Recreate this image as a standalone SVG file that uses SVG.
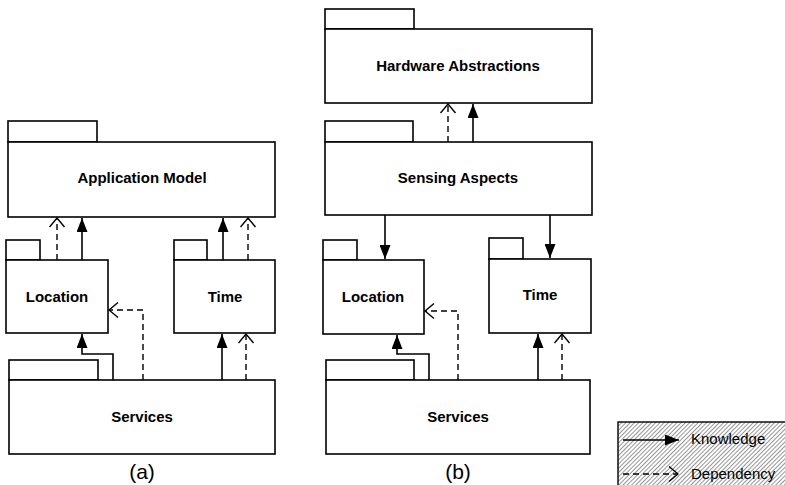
<svg xmlns="http://www.w3.org/2000/svg" width="785" height="485" viewBox="0 0 785 485">
<defs>
<style>
.pk{fill:#fff;stroke:#000;stroke-width:1.6}
.lbl{font-family:"Liberation Sans",Arial,sans-serif;font-weight:bold;font-size:15px;text-anchor:middle;fill:#000}
.cap{font-family:"Liberation Sans",Arial,sans-serif;font-size:21px;text-anchor:middle;fill:#000}
.leg{font-family:"Liberation Sans",Arial,sans-serif;font-size:15px;fill:#000}
.k{fill:none;stroke:#000;stroke-width:1.6;marker-end:url(#fa)}
.d{fill:none;stroke:#000;stroke-width:1.4;stroke-dasharray:6,4;marker-end:url(#oa)}
</style>
<marker id="fa" viewBox="0 0 14 11" refX="14" refY="5.5" markerWidth="14" markerHeight="11" markerUnits="userSpaceOnUse" orient="auto">
<path d="M0,0 L14,5.5 L0,11 z" fill="#000"/>
</marker>
<marker id="oa" viewBox="-1 -1 11 17" refX="9" refY="7.5" markerWidth="11" markerHeight="17" markerUnits="userSpaceOnUse" orient="auto">
<path d="M0,0 L9,7.5 L0,15" fill="none" stroke="#000" stroke-width="1.4"/>
</marker>
<pattern id="hatch" width="3" height="3" patternUnits="userSpaceOnUse" patternTransform="rotate(45)">
<line x1="0.5" y1="0" x2="0.5" y2="3" stroke="#8a8a8a" stroke-width="0.9"/>
</pattern>
</defs>

<!-- (a) -->
<g id="a-appmodel">
<rect class="pk" x="8" y="121" width="89" height="21"/>
<rect class="pk" x="8" y="142" width="267" height="75"/>
<text class="lbl" x="142" y="183">Application Model</text>
</g>
<g id="a-location">
<rect class="pk" x="6" y="240" width="34" height="20"/>
<rect class="pk" x="6" y="260" width="102" height="73"/>
<text class="lbl" x="57" y="302">Location</text>
</g>
<g id="a-time">
<rect class="pk" x="174" y="240" width="33" height="20"/>
<rect class="pk" x="174" y="260" width="101" height="73"/>
<text class="lbl" x="225" y="302">Time</text>
</g>
<g id="a-services">
<rect class="pk" x="9" y="360" width="89" height="20"/>
<rect class="pk" x="9" y="380" width="266" height="74"/>
<text class="lbl" x="142" y="422">Services</text>
</g>
<text class="cap" x="142" y="479">(a)</text>

<!-- (b) -->
<g id="b-hardware">
<rect class="pk" x="325" y="9" width="89" height="20"/>
<rect class="pk" x="325" y="29" width="267" height="74"/>
<text class="lbl" x="458" y="71">Hardware Abstractions</text>
</g>
<g id="b-sensing">
<rect class="pk" x="325" y="121" width="88" height="21"/>
<rect class="pk" x="325" y="142" width="267" height="73"/>
<text class="lbl" x="458" y="183">Sensing Aspects</text>
</g>
<g id="b-location">
<rect class="pk" x="323" y="240" width="34" height="20"/>
<rect class="pk" x="323" y="260" width="101" height="74"/>
<text class="lbl" x="373" y="302">Location</text>
</g>
<g id="b-time">
<rect class="pk" x="489" y="238" width="34" height="21"/>
<rect class="pk" x="489" y="259" width="102" height="74"/>
<text class="lbl" x="540" y="300">Time</text>
</g>
<g id="b-services">
<rect class="pk" x="326" y="360" width="88" height="20"/>
<rect class="pk" x="326" y="380" width="264" height="74"/>
<text class="lbl" x="458" y="422">Services</text>
</g>
<text class="cap" x="458" y="479">(b)</text>

<g id="connectors">
<!-- (a) -->
<path class="d" d="M57,260 V218"/>
<path class="k" d="M82,260 V218"/>
<path class="k" d="M223,260 V218"/>
<path class="d" d="M248,260 V218"/>
<path class="k" d="M113,380 V354 H82 V334"/>
<path class="d" d="M143,380 V310 H109"/>
<path class="k" d="M222,380 V334"/>
<path class="d" d="M246,380 V334"/>
<!-- (b) -->
<path class="d" d="M448,142 V104"/>
<path class="k" d="M473,142 V104"/>
<path class="k" d="M385,215 V259"/>
<path class="k" d="M550,215 V258"/>
<path class="k" d="M429,380 V354 H397 V335"/>
<path class="d" d="M458,380 V311 H425"/>
<path class="k" d="M538,380 V334"/>
<path class="d" d="M562,380 V334"/>
</g>

<g id="legend">
<rect x="618" y="422" width="170" height="70" fill="url(#hatch)" stroke="#000" stroke-width="1.4"/>
<path class="k" d="M623,440 H679"/>
<text class="leg" x="691" y="444">Knowledge</text>
<path class="d" d="M623,474 H678"/>
<text class="leg" x="691" y="479">Dependency</text>
</g>
</svg>
